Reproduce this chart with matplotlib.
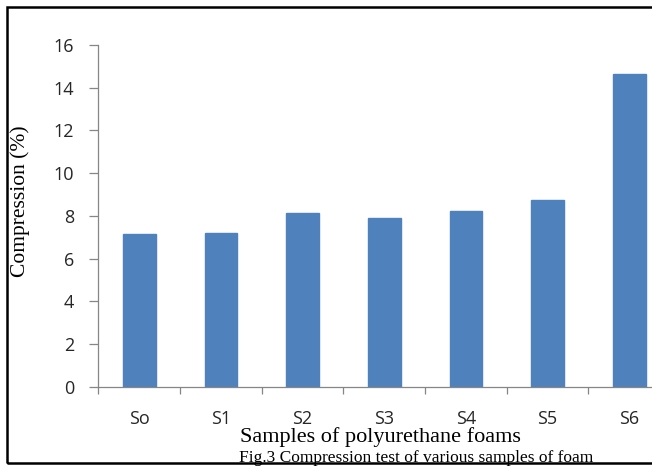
import matplotlib.pyplot as plt
from matplotlib.patches import Rectangle

# Compression of the foam samples (%)
samples = ['So', 'S1', 'S2', 'S3', 'S4', 'S5', 'S6']
compression = [7.16, 7.22, 8.14, 7.91, 8.22, 8.76, 14.65]
y_ticks = [0, 2, 4, 6, 8, 10, 12, 14, 16]

W, H = 652, 468
fig = plt.figure(figsize=(W / 100, H / 100), dpi=100)
ax = fig.add_axes([98.5 / W, 81.2 / H, 571.5 / W, 341.8 / H])

x = range(len(samples))
ax.bar(x, compression, width=0.4, color='#4F81BD', edgecolor='#4F81BD', zorder=2)

ax.set_xlim(-0.5, len(samples) - 0.5)
ax.set_ylim(0, 16)
ax.set_yticks(y_ticks)
ax.set_xticks(x)
ax.set_xticklabels(samples)
# category ticks sit on the boundaries between bars
ax.set_xticks([i - 0.5 for i in range(len(samples) + 1)], minor=True)

for side in ['top', 'right']:
    ax.spines[side].set_visible(False)
for side in ['left', 'bottom']:
    ax.spines[side].set_color('#868686')
    ax.spines[side].set_linewidth(0.9)

for lab in ax.get_yticklabels() + ax.get_xticklabels():
    lab.set_fontfamily('Open Sans')
    lab.set_fontsize(13)
    lab.set_color('#262626')

ax.tick_params(axis='y', length=6.5, width=0.9, color='#868686', pad=11)
ax.tick_params(axis='x', which='major', length=0, pad=17)
ax.tick_params(axis='x', which='minor', length=5, width=0.9, color='#868686')

fig.text(20 / W, 1 - 201 / H, 'Compression (%)', rotation=90, ha='center', va='center',
         family='Liberation Serif', fontsize=15.5)
fig.text(380 / W, 1 - 437 / H, 'Samples of polyurethane foams', ha='center', va='center',
         family='Liberation Serif', fontsize=16)
fig.text(416 / W, 1 - 458 / H, 'Fig.3 Compression test of various samples of foam', ha='center',
         va='center', family='Liberation Serif', fontsize=12.5)

# black frame around the whole chart (right edge runs off the image)
fig.patches.append(Rectangle((7 / W, 5 / H), 1.0, 1 - 12 / H, transform=fig.transFigure,
                             fill=False, edgecolor='black', linewidth=1.8))

fig.savefig('out.png', dpi=100)
